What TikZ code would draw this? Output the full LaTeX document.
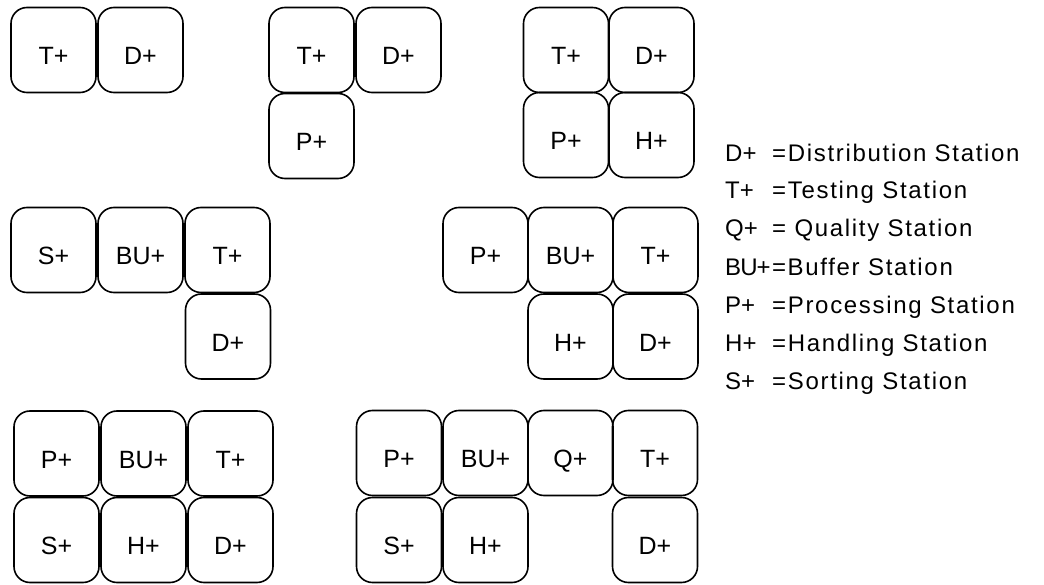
\documentclass[tikz,border=0pt]{standalone}
\usepackage{fontspec}
\setmainfont{Liberation Sans}
\newfontfamily\legfont[LetterSpace=7]{Liberation Sans}
\newfontfamily\tightfont[LetterSpace=-4]{Liberation Sans}
\begin{document}
\begin{tikzpicture}[x=1pt,y=-1pt,
  station/.style={draw=black, line width=1.6pt, rounded corners=16pt,
    minimum width=85pt, minimum height=85pt, inner sep=0pt,
    text height=29pt, text depth=0pt,
    font=\fontsize{25}{29}\selectfont},
  legkey/.style={anchor=base west, inner sep=0pt, font=\fontsize{24}{28}\selectfont},
  legtext/.style={anchor=base west, inner sep=0pt, font=\legfont\fontsize{24}{28}\selectfont}]
\useasboundingbox (0,0) rectangle (1044,585);
% group 1
\node[station] (a1) at (53.5,50) {T+};
\node[station] (a2) at (140.5,50) {D+};
% group 2
\node[station] (b1) at (311.5,50) {T+};
\node[station] (b2) at (398.5,50) {D+};
\node[station] (b3) at (311.5,136) {P+};
% group 3
\node[station] (c1) at (566,50) {T+};
\node[station] (c2) at (651.5,50) {D+};
\node[station] (c3) at (566,135) {P+};
\node[station] (c4) at (651.5,135) {H+};
% row 2 group A
\node[station] (d1) at (53.5,250) {S+};
\node[station] (d2) at (140.5,250) {BU+};
\node[station] (d3) at (227.5,250) {T+};
\node[station] (d4) at (228,336.5) {D+};
% row 2 group B
\node[station] (e1) at (485.5,250) {P+};
\node[station] (e2) at (570.5,250) {BU+};
\node[station] (e3) at (655.5,250) {T+};
\node[station] (e4) at (570.5,336.5) {H+};
\node[station] (e5) at (655.5,336.5) {D+};
% row 3 group A
\node[station] (f1) at (56.5,453.5) {P+};
\node[station] (f2) at (143.5,453.5) {BU+};
\node[station] (f3) at (230.5,453.5) {T+};
\node[station] (f4) at (56.5,540) {S+};
\node[station] (f5) at (143.5,540) {H+};
\node[station] (f6) at (230.5,540) {D+};
% row 3 group B
\node[station] (g1) at (399,453) {P+};
\node[station] (g2) at (485.5,453) {BU+};
\node[station] (g3) at (570.5,453) {Q+};
\node[station] (g4) at (655,453) {T+};
\node[station] (g5) at (399,540) {S+};
\node[station] (g6) at (485.5,540) {H+};
\node[station] (g7) at (655,540) {D+};
% legend
\node[legkey] (k1) at (725,162) {D+};
\node[legtext] (l1) at (772,162) {=Distribution Station};
\node[legkey] (k2) at (725,199) {T+};
\node[legtext] (l2) at (772,199) {=Testing Station};
\node[legkey] (k3) at (725,237) {Q+};
\node[legtext] (l3) at (772,237) {= Quality Station};
\node[legkey, font=\tightfont\fontsize{24}{28}\selectfont] (k4) at (725,276) {BU+};
\node[legtext, xshift=1pt] (l4) at (k4.base east) {=Buffer Station};
\node[legkey] (k5) at (725,314) {P+};
\node[legtext] (l5) at (772,314) {=Processing Station};
\node[legkey] (k6) at (725,351) {H+};
\node[legtext] (l6) at (772,351) {=Handling Station};
\node[legkey] (k7) at (725,389) {S+};
\node[legtext] (l7) at (772,389) {=Sorting Station};
\end{tikzpicture}
\end{document}
